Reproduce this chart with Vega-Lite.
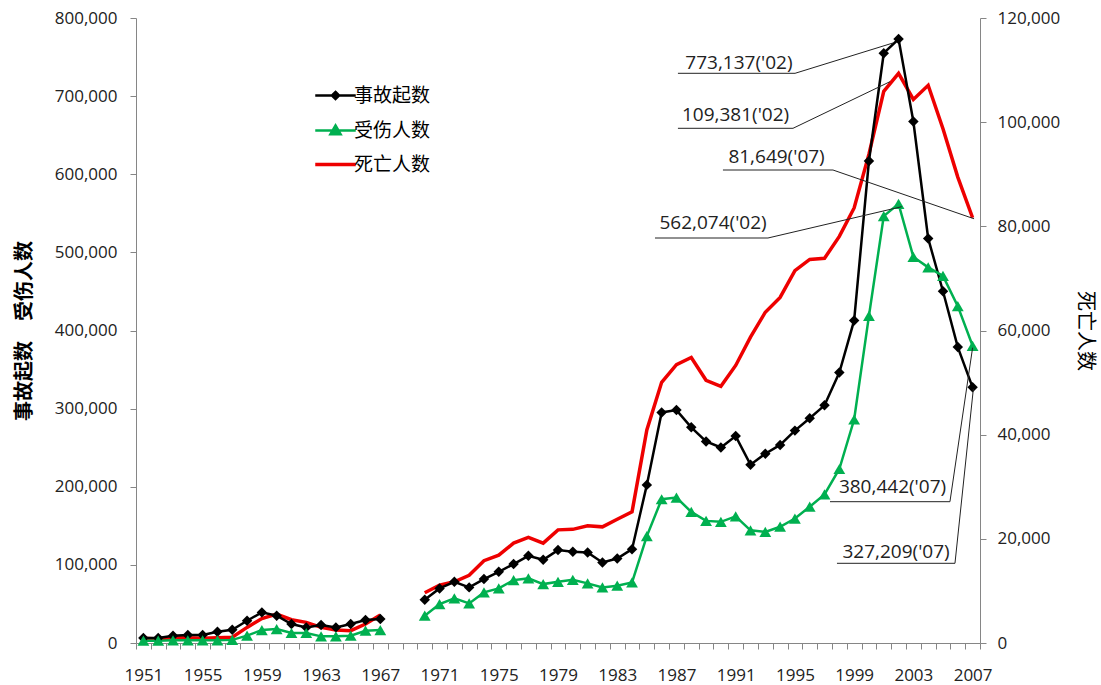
{
  "$schema": "https://vega.github.io/schema/vega-lite/v6.json",
  "width": 844,
  "height": 625,
  "autosize": {"type": "none"},
  "padding": {"left": 136, "top": 18, "right": 121, "bottom": 42},
  "background": "white",
  "config": {
    "view": {"stroke": null},
    "font": "Open Sans",
    "axis": {"labelFont": "Open Sans", "labelFontSize": 17, "labelColor": "#222222", "domainColor": "#868686", "tickColor": "#868686", "grid": false}
  },
  "datasets": {
    "main": [
      {"year": 1951, "series": "事故起数", "value": 6400, "period": "a"},
      {"year": 1952, "series": "事故起数", "value": 6400, "period": "a"},
      {"year": 1953, "series": "事故起数", "value": 9400, "period": "a"},
      {"year": 1954, "series": "事故起数", "value": 10200, "period": "a"},
      {"year": 1955, "series": "事故起数", "value": 10200, "period": "a"},
      {"year": 1956, "series": "事故起数", "value": 14500, "period": "a"},
      {"year": 1957, "series": "事故起数", "value": 17000, "period": "a"},
      {"year": 1958, "series": "事故起数", "value": 28500, "period": "a"},
      {"year": 1959, "series": "事故起数", "value": 39200, "period": "a"},
      {"year": 1960, "series": "事故起数", "value": 35000, "period": "a"},
      {"year": 1961, "series": "事故起数", "value": 24300, "period": "a"},
      {"year": 1962, "series": "事故起数", "value": 20000, "period": "a"},
      {"year": 1963, "series": "事故起数", "value": 23000, "period": "a"},
      {"year": 1964, "series": "事故起数", "value": 20000, "period": "a"},
      {"year": 1965, "series": "事故起数", "value": 24300, "period": "a"},
      {"year": 1966, "series": "事故起数", "value": 29400, "period": "a"},
      {"year": 1967, "series": "事故起数", "value": 30700, "period": "a"},
      {"year": 1970, "series": "事故起数", "value": 55400, "period": "b"},
      {"year": 1971, "series": "事故起数", "value": 69900, "period": "b"},
      {"year": 1972, "series": "事故起数", "value": 78300, "period": "b"},
      {"year": 1973, "series": "事故起数", "value": 71200, "period": "b"},
      {"year": 1974, "series": "事故起数", "value": 81800, "period": "b"},
      {"year": 1975, "series": "事故起数", "value": 91100, "period": "b"},
      {"year": 1976, "series": "事故起数", "value": 101000, "period": "b"},
      {"year": 1977, "series": "事故起数", "value": 111600, "period": "b"},
      {"year": 1978, "series": "事故起数", "value": 106500, "period": "b"},
      {"year": 1979, "series": "事故起数", "value": 118900, "period": "b"},
      {"year": 1980, "series": "事故起数", "value": 116692, "period": "b"},
      {"year": 1981, "series": "事故起数", "value": 115900, "period": "b"},
      {"year": 1982, "series": "事故起数", "value": 103100, "period": "b"},
      {"year": 1983, "series": "事故起数", "value": 108200, "period": "b"},
      {"year": 1984, "series": "事故起数", "value": 120100, "period": "b"},
      {"year": 1985, "series": "事故起数", "value": 202394, "period": "b"},
      {"year": 1986, "series": "事故起数", "value": 295136, "period": "b"},
      {"year": 1987, "series": "事故起数", "value": 298147, "period": "b"},
      {"year": 1988, "series": "事故起数", "value": 276071, "period": "b"},
      {"year": 1989, "series": "事故起数", "value": 258030, "period": "b"},
      {"year": 1990, "series": "事故起数", "value": 250297, "period": "b"},
      {"year": 1991, "series": "事故起数", "value": 264817, "period": "b"},
      {"year": 1992, "series": "事故起数", "value": 228278, "period": "b"},
      {"year": 1993, "series": "事故起数", "value": 242343, "period": "b"},
      {"year": 1994, "series": "事故起数", "value": 253537, "period": "b"},
      {"year": 1995, "series": "事故起数", "value": 271843, "period": "b"},
      {"year": 1996, "series": "事故起数", "value": 287685, "period": "b"},
      {"year": 1997, "series": "事故起数", "value": 304217, "period": "b"},
      {"year": 1998, "series": "事故起数", "value": 346129, "period": "b"},
      {"year": 1999, "series": "事故起数", "value": 412860, "period": "b"},
      {"year": 2000, "series": "事故起数", "value": 616971, "period": "b"},
      {"year": 2001, "series": "事故起数", "value": 754919, "period": "b"},
      {"year": 2002, "series": "事故起数", "value": 773137, "period": "b"},
      {"year": 2003, "series": "事故起数", "value": 667507, "period": "b"},
      {"year": 2004, "series": "事故起数", "value": 517889, "period": "b"},
      {"year": 2005, "series": "事故起数", "value": 450254, "period": "b"},
      {"year": 2006, "series": "事故起数", "value": 378781, "period": "b"},
      {"year": 2007, "series": "事故起数", "value": 327209, "period": "b"},
      {"year": 1951, "series": "受伤人数", "value": 3000, "period": "a"},
      {"year": 1952, "series": "受伤人数", "value": 3000, "period": "a"},
      {"year": 1953, "series": "受伤人数", "value": 3500, "period": "a"},
      {"year": 1954, "series": "受伤人数", "value": 3500, "period": "a"},
      {"year": 1955, "series": "受伤人数", "value": 3500, "period": "a"},
      {"year": 1956, "series": "受伤人数", "value": 3500, "period": "a"},
      {"year": 1957, "series": "受伤人数", "value": 4000, "period": "a"},
      {"year": 1958, "series": "受伤人数", "value": 9400, "period": "a"},
      {"year": 1959, "series": "受伤人数", "value": 16600, "period": "a"},
      {"year": 1960, "series": "受伤人数", "value": 17900, "period": "a"},
      {"year": 1961, "series": "受伤人数", "value": 12800, "period": "a"},
      {"year": 1962, "series": "受伤人数", "value": 12800, "period": "a"},
      {"year": 1963, "series": "受伤人数", "value": 8500, "period": "a"},
      {"year": 1964, "series": "受伤人数", "value": 8500, "period": "a"},
      {"year": 1965, "series": "受伤人数", "value": 9400, "period": "a"},
      {"year": 1966, "series": "受伤人数", "value": 15700, "period": "a"},
      {"year": 1967, "series": "受伤人数", "value": 16600, "period": "a"},
      {"year": 1970, "series": "受伤人数", "value": 35000, "period": "b"},
      {"year": 1971, "series": "受伤人数", "value": 49800, "period": "b"},
      {"year": 1972, "series": "受伤人数", "value": 57100, "period": "b"},
      {"year": 1973, "series": "受伤人数", "value": 50700, "period": "b"},
      {"year": 1974, "series": "受伤人数", "value": 64800, "period": "b"},
      {"year": 1975, "series": "受伤人数", "value": 69900, "period": "b"},
      {"year": 1976, "series": "受伤人数", "value": 80500, "period": "b"},
      {"year": 1977, "series": "受伤人数", "value": 82700, "period": "b"},
      {"year": 1978, "series": "受伤人数", "value": 75400, "period": "b"},
      {"year": 1979, "series": "受伤人数", "value": 78300, "period": "b"},
      {"year": 1980, "series": "受伤人数", "value": 80824, "period": "b"},
      {"year": 1981, "series": "受伤人数", "value": 76300, "period": "b"},
      {"year": 1982, "series": "受伤人数", "value": 71200, "period": "b"},
      {"year": 1983, "series": "受伤人数", "value": 73300, "period": "b"},
      {"year": 1984, "series": "受伤人数", "value": 77600, "period": "b"},
      {"year": 1985, "series": "受伤人数", "value": 136829, "period": "b"},
      {"year": 1986, "series": "受伤人数", "value": 184000, "period": "b"},
      {"year": 1987, "series": "受伤人数", "value": 186200, "period": "b"},
      {"year": 1988, "series": "受伤人数", "value": 167800, "period": "b"},
      {"year": 1989, "series": "受伤人数", "value": 156300, "period": "b"},
      {"year": 1990, "series": "受伤人数", "value": 155072, "period": "b"},
      {"year": 1991, "series": "受伤人数", "value": 162019, "period": "b"},
      {"year": 1992, "series": "受伤人数", "value": 144264, "period": "b"},
      {"year": 1993, "series": "受伤人数", "value": 142251, "period": "b"},
      {"year": 1994, "series": "受伤人数", "value": 148817, "period": "b"},
      {"year": 1995, "series": "受伤人数", "value": 159308, "period": "b"},
      {"year": 1996, "series": "受伤人数", "value": 174447, "period": "b"},
      {"year": 1997, "series": "受伤人数", "value": 190128, "period": "b"},
      {"year": 1998, "series": "受伤人数", "value": 222721, "period": "b"},
      {"year": 1999, "series": "受伤人数", "value": 286080, "period": "b"},
      {"year": 2000, "series": "受伤人数", "value": 418721, "period": "b"},
      {"year": 2001, "series": "受伤人数", "value": 546485, "period": "b"},
      {"year": 2002, "series": "受伤人数", "value": 562074, "period": "b"},
      {"year": 2003, "series": "受伤人数", "value": 494174, "period": "b"},
      {"year": 2004, "series": "受伤人数", "value": 480864, "period": "b"},
      {"year": 2005, "series": "受伤人数", "value": 469911, "period": "b"},
      {"year": 2006, "series": "受伤人数", "value": 431139, "period": "b"},
      {"year": 2007, "series": "受伤人数", "value": 380442, "period": "b"},
      {"year": 1951, "series": "死亡人数", "value": 900, "period": "a"},
      {"year": 1952, "series": "死亡人数", "value": 770, "period": "a"},
      {"year": 1953, "series": "死亡人数", "value": 1000, "period": "a"},
      {"year": 1954, "series": "死亡人数", "value": 1000, "period": "a"},
      {"year": 1955, "series": "死亡人数", "value": 900, "period": "a"},
      {"year": 1956, "series": "死亡人数", "value": 1000, "period": "a"},
      {"year": 1957, "series": "死亡人数", "value": 1100, "period": "a"},
      {"year": 1958, "series": "死亡人数", "value": 3000, "period": "a"},
      {"year": 1959, "series": "死亡人数", "value": 4700, "period": "a"},
      {"year": 1960, "series": "死亡人数", "value": 5560, "period": "a"},
      {"year": 1961, "series": "死亡人数", "value": 4470, "period": "a"},
      {"year": 1962, "series": "死亡人数", "value": 3960, "period": "a"},
      {"year": 1963, "series": "死亡人数", "value": 3000, "period": "a"},
      {"year": 1964, "series": "死亡人数", "value": 2490, "period": "a"},
      {"year": 1965, "series": "死亡人数", "value": 2360, "period": "a"},
      {"year": 1966, "series": "死亡人数", "value": 3640, "period": "a"},
      {"year": 1967, "series": "死亡人数", "value": 5370, "period": "a"},
      {"year": 1970, "series": "死亡人数", "value": 9654, "period": "b"},
      {"year": 1971, "series": "死亡人数", "value": 11100, "period": "b"},
      {"year": 1972, "series": "死亡人数", "value": 11750, "period": "b"},
      {"year": 1973, "series": "死亡人数", "value": 13000, "period": "b"},
      {"year": 1974, "series": "死亡人数", "value": 15800, "period": "b"},
      {"year": 1975, "series": "死亡人数", "value": 16870, "period": "b"},
      {"year": 1976, "series": "死亡人数", "value": 19170, "period": "b"},
      {"year": 1977, "series": "死亡人数", "value": 20260, "period": "b"},
      {"year": 1978, "series": "死亡人数", "value": 19170, "period": "b"},
      {"year": 1979, "series": "死亡人数", "value": 21720, "period": "b"},
      {"year": 1980, "series": "死亡人数", "value": 21818, "period": "b"},
      {"year": 1981, "series": "死亡人数", "value": 22490, "period": "b"},
      {"year": 1982, "series": "死亡人数", "value": 22300, "period": "b"},
      {"year": 1983, "series": "死亡人数", "value": 23770, "period": "b"},
      {"year": 1984, "series": "死亡人数", "value": 25170, "period": "b"},
      {"year": 1985, "series": "死亡人数", "value": 40906, "period": "b"},
      {"year": 1986, "series": "死亡人数", "value": 50063, "period": "b"},
      {"year": 1987, "series": "死亡人数", "value": 53439, "period": "b"},
      {"year": 1988, "series": "死亡人数", "value": 54814, "period": "b"},
      {"year": 1989, "series": "死亡人数", "value": 50441, "period": "b"},
      {"year": 1990, "series": "死亡人数", "value": 49271, "period": "b"},
      {"year": 1991, "series": "死亡人数", "value": 53292, "period": "b"},
      {"year": 1992, "series": "死亡人数", "value": 58729, "period": "b"},
      {"year": 1993, "series": "死亡人数", "value": 63508, "period": "b"},
      {"year": 1994, "series": "死亡人数", "value": 66362, "period": "b"},
      {"year": 1995, "series": "死亡人数", "value": 71494, "period": "b"},
      {"year": 1996, "series": "死亡人数", "value": 73655, "period": "b"},
      {"year": 1997, "series": "死亡人数", "value": 73861, "period": "b"},
      {"year": 1998, "series": "死亡人数", "value": 78067, "period": "b"},
      {"year": 1999, "series": "死亡人数", "value": 83529, "period": "b"},
      {"year": 2000, "series": "死亡人数", "value": 93853, "period": "b"},
      {"year": 2001, "series": "死亡人数", "value": 105930, "period": "b"},
      {"year": 2002, "series": "死亡人数", "value": 109381, "period": "b"},
      {"year": 2003, "series": "死亡人数", "value": 104372, "period": "b"},
      {"year": 2004, "series": "死亡人数", "value": 107077, "period": "b"},
      {"year": 2005, "series": "死亡人数", "value": 98738, "period": "b"},
      {"year": 2006, "series": "死亡人数", "value": 89455, "period": "b"},
      {"year": 2007, "series": "死亡人数", "value": 81649, "period": "b"}
    ],
    "ann": [
      {"id": 1, "o": 0, "year": 1987.10, "value": 729220},
      {"id": 1, "o": 1, "year": 1995.01, "value": 729220},
      {"id": 1, "o": 2, "year": 2001.62, "value": 768000},
      {"id": 2, "o": 0, "year": 1987.10, "value": 658820},
      {"id": 2, "o": 1, "year": 1994.87, "value": 658820},
      {"id": 2, "o": 2, "year": 2001.42, "value": 718460},
      {"id": 3, "o": 0, "year": 1990.14, "value": 605440},
      {"id": 3, "o": 1, "year": 1997.57, "value": 605440},
      {"id": 3, "o": 2, "year": 2007.10, "value": 543000},
      {"id": 4, "o": 0, "year": 1985.55, "value": 518400},
      {"id": 4, "o": 1, "year": 1993.18, "value": 518400},
      {"id": 4, "o": 2, "year": 2002.21, "value": 558460},
      {"id": 5, "o": 0, "year": 1997.37, "value": 180860},
      {"id": 5, "o": 1, "year": 2005.47, "value": 180860},
      {"id": 5, "o": 2, "year": 2007.00, "value": 378000},
      {"id": 6, "o": 0, "year": 1997.84, "value": 102020},
      {"id": 6, "o": 1, "year": 2005.81, "value": 102020},
      {"id": 6, "o": 2, "year": 2007.05, "value": 325000}
    ],
    "lab": [
      {"text": "773,137('02)", "year": 1991.22, "value": 742780},
      {"text": "109,381('02)", "year": 1990.99, "value": 675840},
      {"text": "81,649('07)", "year": 1993.76, "value": 622460},
      {"text": "562,074('02)", "year": 1989.47, "value": 537600},
      {"text": "380,442('07)", "year": 2001.59, "value": 200060},
      {"text": "327,209('07)", "year": 2001.83, "value": 116860}
    ]
  },
  "encoding": {
    "x": {
      "field": "year",
      "type": "quantitative",
      "scale": {"domain": [1950.5, 2007.5], "nice": false, "zero": false},
      "axis": {
        "title": null,
        "values": [1950.5, 1951.5, 1952.5, 1953.5, 1954.5, 1955.5, 1956.5, 1957.5, 1958.5, 1959.5, 1960.5, 1961.5, 1962.5, 1963.5, 1964.5, 1965.5, 1966.5, 1967.5, 1968.5, 1969.5, 1970.5, 1971.5, 1972.5, 1973.5, 1974.5, 1975.5, 1976.5, 1977.5, 1978.5, 1979.5, 1980.5, 1981.5, 1982.5, 1983.5, 1984.5, 1985.5, 1986.5, 1987.5, 1988.5, 1989.5, 1990.5, 1991.5, 1992.5, 1993.5, 1994.5, 1995.5, 1996.5, 1997.5, 1998.5, 1999.5, 2000.5, 2001.5, 2002.5, 2003.5, 2004.5, 2005.5, 2006.5, 2007.5],
        "labelExpr": "(datum.value + 0.5 - 1951) % 4 === 0 && datum.value < 2007.6 ? format(datum.value + 0.5, 'd') : ''",
        "labelOffset": 7.4,
        "tickSize": 6,
        "labelPadding": 18,
        "labelOverlap": false,
        "labelFlush": false
      }
    }
  },
  "layer": [
    {
      "data": {"name": "main"},
      "transform": [{"filter": {"field": "series", "equal": "死亡人数"}}],
      "mark": {"type": "line", "strokeWidth": 3.5},
      "encoding": {
        "y": {
          "field": "value",
          "type": "quantitative",
          "scale": {"domain": [0, 120000], "nice": false},
          "axis": {
            "orient": "right",
            "values": [0, 20000, 40000, 60000, 80000, 100000, 120000],
            "format": ",d",
            "tickSize": 6,
            "labelPadding": 11,
            "title": "死亡人数",
            "titleFont": "Noto Sans CJK SC",
            "titleFontSize": 20,
            "titleFontWeight": "normal",
            "titleColor": "#000000",
            "titlePadding": 15
          }
        },
        "color": {
          "field": "series",
          "type": "nominal",
          "scale": {"domain": ["事故起数", "受伤人数", "死亡人数"], "range": ["#000000", "#00b050", "#ee0000"]}
        },
        "detail": {"field": "period"}
      }
    },
    {
      "layer": [
        {
          "data": {"name": "main"},
          "transform": [{"filter": {"field": "series", "oneOf": ["事故起数", "受伤人数"]}}],
          "mark": {"type": "line", "strokeWidth": 2.5},
          "encoding": {
            "y": {
              "field": "value",
              "type": "quantitative",
              "scale": {"domain": [0, 800000], "nice": false},
              "axis": {
                "orient": "left",
                "values": [0, 100000, 200000, 300000, 400000, 500000, 600000, 700000, 800000],
                "format": ",d",
                "tickSize": 6,
                "labelPadding": 13,
                "title": "事故起数　受伤人数",
                "titleFont": "Noto Sans CJK SC",
                "titleFontSize": 20,
                "titleFontWeight": "bold",
                "titleColor": "#000000",
                "titlePadding": 20
              }
            },
            "color": {
              "field": "series",
              "type": "nominal",
              "scale": {"domain": ["事故起数", "受伤人数", "死亡人数"], "range": ["#000000", "#00b050", "#ee0000"]},
              "legend": {
                "title": null,
                "orient": "none",
                "legendX": 190,
                "legendY": 68,
                "padding": 0,
                "rowPadding": 14,
                "symbolSize": 900,
                "labelFont": "Noto Sans CJK SC",
                "labelFontSize": 19,
                "labelColor": "#000000",
                "labelOffset": 9,
                "encode": {
                  "symbols": {
                    "update": {
                      "shape": {"signal": "datum.value === '事故起数' ? 'M-1.35,0H1.35M0,-0.24L0.24,0L0,0.24L-0.24,0Z' : datum.value === '受伤人数' ? 'M-1.35,0H1.35M0,-0.34L0.34,0.25L-0.34,0.25Z' : 'M-1.35,0H1.35'"},
                      "fill": {"scale": "color", "field": "value"},
                      "stroke": {"scale": "color", "field": "value"},
                      "strokeWidth": {"signal": "datum.value === '死亡人数' ? 3.5 : 2.5"},
                      "size": {"value": 900},
                      "opacity": {"value": 1},
                      "fillOpacity": {"value": 1},
                      "strokeOpacity": {"value": 1}
                    }
                  }
                }
              }
            },
            "detail": {"field": "period"}
          }
        },
        {
          "data": {"name": "main"},
          "transform": [{"filter": {"field": "series", "equal": "事故起数"}}],
          "mark": {"type": "point", "shape": "diamond", "filled": true, "size": 110, "color": "#000000", "opacity": 1},
          "encoding": {"y": {"field": "value", "type": "quantitative"}}
        },
        {
          "data": {"name": "main"},
          "transform": [{"filter": {"field": "series", "equal": "受伤人数"}}],
          "mark": {"type": "point", "shape": "triangle-up", "filled": true, "size": 140, "color": "#00b050", "opacity": 1},
          "encoding": {"y": {"field": "value", "type": "quantitative"}}
        },
        {
          "data": {"name": "ann"},
          "mark": {"type": "line", "strokeWidth": 1, "color": "#222222"},
          "encoding": {
            "y": {"field": "value", "type": "quantitative"},
            "detail": {"field": "id"},
            "order": {"field": "o"}
          }
        },
        {
          "data": {"name": "lab"},
          "mark": {"type": "text", "fontSize": 19, "font": "Open Sans", "color": "#222222", "align": "center", "baseline": "middle"},
          "encoding": {
            "y": {"field": "value", "type": "quantitative"},
            "text": {"field": "text"}
          }
        }
      ]
    }
  ],
  "resolve": {"scale": {"y": "independent"}}
}
